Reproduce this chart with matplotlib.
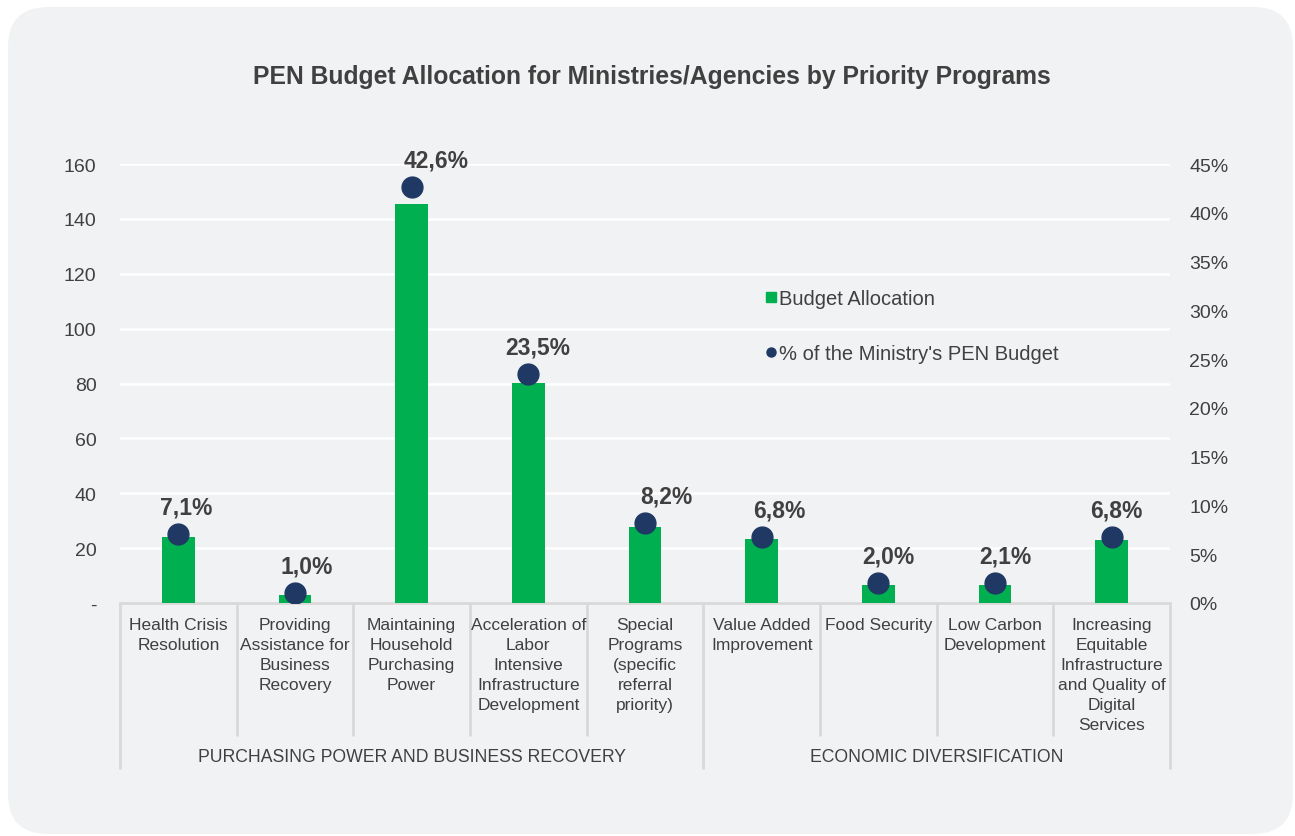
import matplotlib
matplotlib.use("Agg")
import matplotlib.pyplot as plt
from matplotlib.patches import FancyBboxPatch
from matplotlib.lines import Line2D
from matplotlib.ticker import FuncFormatter, PercentFormatter
import matplotlib.transforms as mtransforms

# ---- data ----
categories = [
    "Health Crisis\nResolution",
    "Providing\nAssistance for\nBusiness\nRecovery",
    "Maintaining\nHousehold\nPurchasing\nPower",
    "Acceleration of\nLabor\nIntensive\nInfrastructure\nDevelopment",
    "Special\nPrograms\n(specific\nreferral\npriority)",
    "Value Added\nImprovement",
    "Food Security",
    "Low Carbon\nDevelopment",
    "Increasing\nEquitable\nInfrastructure\nand Quality of\nDigital\nServices",
]
groups = ["PURCHASING POWER AND BUSINESS RECOVERY", "ECONOMIC DIVERSIFICATION"]
group_sizes = [5, 4]
budget = [24.2, 3.0, 145.4, 80.3, 27.8, 23.3, 6.6, 6.6, 23.1]
share_pct = [7.1, 1.0, 42.6, 23.5, 8.2, 6.8, 2.0, 2.1, 6.8]
left_ticks = [0, 20, 40, 60, 80, 100, 120, 140, 160]
right_ticks = [0, 0.05, 0.10, 0.15, 0.20, 0.25, 0.30, 0.35, 0.40, 0.45]

# horizontal nudges (pixels) for the percentage labels
label_nudge_px = [8, 12, 24, 9, 21, 18, 10, 10, 5]

GREEN = "#00b050"
NAVY = "#1f3864"
TEXT = "#404040"
CARD = "#f1f2f4"
AXIS_GRAY = "#d9d9d9"
FONT = "Liberation Sans"

plt.rcParams["font.family"] = [FONT, "DejaVu Sans"]

W, H = 1295, 837
fig = plt.figure(figsize=(W / 100, H / 100), dpi=100)
fig.patch.set_facecolor("white")

# rounded card behind the chart
card = FancyBboxPatch((8 / W, 2 / H), (1293 - 8) / W, (829 - 2) / H,
                      boxstyle="round,pad=0,rounding_size=%f" % (40 / W),
                      mutation_aspect=W / H, transform=fig.transFigure,
                      facecolor=CARD, edgecolor="none", zorder=-10)
fig.patches.append(card)

ax_left, ax_right, ax_bottom, ax_top = 120, 1170, 604, 165
ax = fig.add_axes([ax_left / W, 1 - ax_bottom / H,
                   (ax_right - ax_left) / W, (ax_bottom - ax_top) / H])
ax.set_facecolor("none")

x = list(range(len(categories)))
ax.bar(x, budget, width=0.28, color=GREEN, zorder=3)
ax.set_xlim(-0.5, len(categories) - 0.5)
ax.set_ylim(0, 160)
ax.set_yticks(left_ticks)
ax.yaxis.set_major_formatter(FuncFormatter(lambda v, p: "-" if v == 0 else f"{v:.0f}"))
ax.yaxis.grid(True, color="white", linewidth=1.8, zorder=0)
ax.set_axisbelow(True)
ax.tick_params(axis="y", length=0, pad=17, labelsize=14, labelcolor=TEXT)
ax.set_xticks([])
for s in ["top", "right", "left"]:
    ax.spines[s].set_visible(False)
ax.spines["bottom"].set_color(AXIS_GRAY)
ax.spines["bottom"].set_linewidth(2)

ax2 = ax.twinx()
ax2.set_ylim(0, 0.45)
ax2.set_yticks(right_ticks)
ax2.yaxis.set_major_formatter(PercentFormatter(xmax=1, decimals=0))
ax2.tick_params(axis="y", length=0, pad=14, labelsize=14, labelcolor=TEXT)
for s in ax2.spines.values():
    s.set_visible(False)
shares = [p / 100 for p in share_pct]
ax2.plot(x, shares, linestyle="none", marker="o", markersize=15,
         color=NAVY, zorder=5)
for xi, v, p, dx in zip(x, shares, share_pct, label_nudge_px):
    ax2.annotate(f"{p:.1f}%".replace(".", ","), (xi, v),
                 xytext=(dx, 27), textcoords="offset pixels",
                 ha="center", va="center", fontsize=16.5, fontweight="bold",
                 color=TEXT)

# multi-level category axis
trans = mtransforms.blended_transform_factory(ax.transData, ax.transAxes)
ax_h = ax_bottom - ax_top
inner_end = -(737 - ax_bottom) / ax_h
outer_end = -(770 - ax_bottom) / ax_h
group_edges = [-0.5]
for gs in group_sizes:
    group_edges.append(group_edges[-1] + gs)
for b in [i - 0.5 for i in range(len(categories) + 1)]:
    y_end = outer_end if b in group_edges else inner_end
    ax.plot([b, b], [0, y_end], color=AXIS_GRAY, linewidth=2,
            transform=trans, clip_on=False, solid_capstyle="butt")
for xi, lab in zip(x, categories):
    ax.text(xi, -(618 - ax_bottom) / ax_h, lab, transform=trans,
            ha="center", va="top", fontsize=12.5, color=TEXT,
            linespacing=1.41)
for g, a, b in zip(groups, group_edges[:-1], group_edges[1:]):
    ax.text((a + b) / 2, -(758 - ax_bottom) / ax_h, g, transform=trans,
            ha="center", va="center", fontsize=12.7, color=TEXT)

# legend
handles = [
    Line2D([], [], linestyle="none", marker="s", markersize=7.5,
           color=GREEN, label="Budget Allocation"),
    Line2D([], [], linestyle="none", marker="o", markersize=6.5,
           color=NAVY, label="% of the Ministry's PEN Budget"),
]
leg = ax.legend(handles=handles, loc="center left",
                bbox_to_anchor=((755 - ax_left) / (ax_right - ax_left),
                                (ax_bottom - 327) / ax_h),
                frameon=False, fontsize=14.5, handlelength=0.6,
                handletextpad=0.1, labelspacing=1.78, borderpad=0)
for t in leg.get_texts():
    t.set_color(TEXT)

fig.text(0.5035, 1 - 77 / H,
         "PEN Budget Allocation for Ministries/Agencies by Priority Programs",
         ha="center", va="center", fontsize=17.8, fontweight="bold", color=TEXT)

fig.savefig("out.png", dpi=100, facecolor="white")
